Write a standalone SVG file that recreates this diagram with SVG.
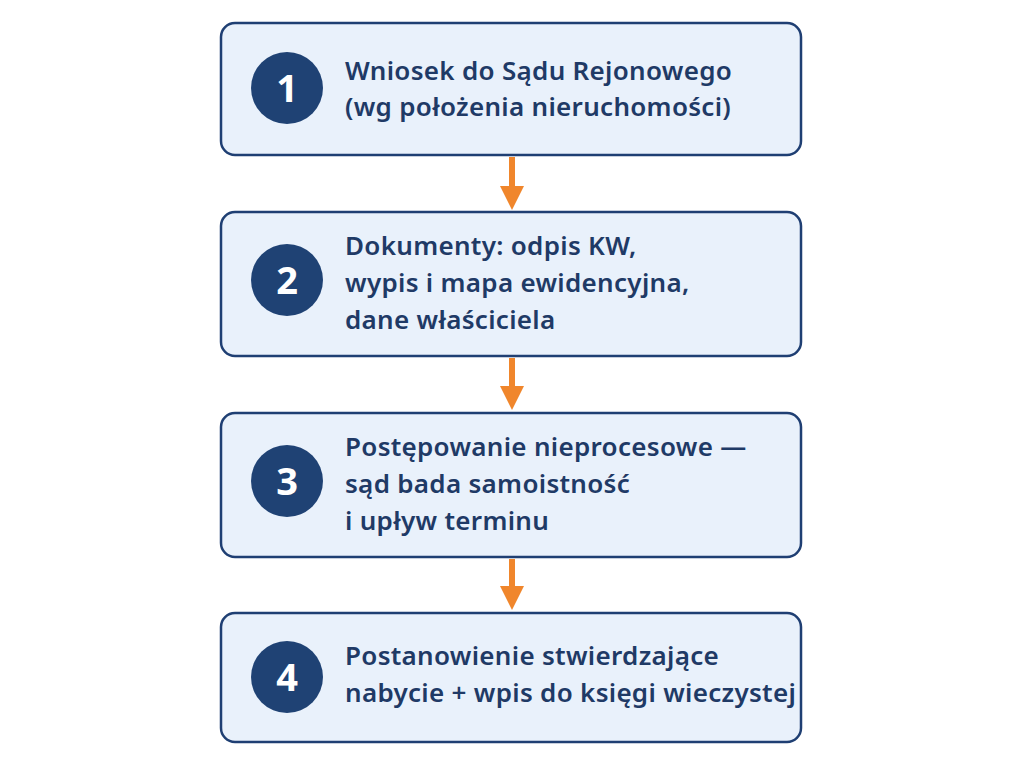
<svg xmlns="http://www.w3.org/2000/svg" width="1024" height="768" viewBox="0 0 1024 768">
<style>
.box{fill:#e9f1fb;stroke:#1f3f73;stroke-width:2.5}
.num{fill:#1f4274}
.nt{font-family:"Noto Sans","DejaVu Sans",sans-serif;font-size:38px;font-weight:bold;fill:#fff;text-anchor:middle}
.t{font-family:"Noto Sans","DejaVu Sans",sans-serif;font-size:26px;font-weight:600;fill:#1f3a66;letter-spacing:0.3px}
.ar{stroke:#f0862c;stroke-width:6;fill:none}
</style>
<defs><marker id="ah" markerWidth="4" markerHeight="4" refX="2" refY="2" orient="auto" markerUnits="strokeWidth"><path d="M0,0L4,2L0,4z" fill="#f0862c"/></marker></defs>
<rect width="1024" height="768" fill="#fff"/>
<g id="connectors">
<path class="ar" d="M512,157V198" marker-end="url(#ah)"/>
<path class="ar" d="M512,358V398" marker-end="url(#ah)"/>
<path class="ar" d="M512,559V598" marker-end="url(#ah)"/>
</g>
<g id="n1"><rect class="box" x="221" y="23" width="580" height="132" rx="14"/><circle class="num" cx="287" cy="88" r="36"/><text class="nt" x="287" y="102">1</text>
<text class="t" x="345" y="80">Wniosek do Sądu Rejonowego</text><text class="t" x="345" y="116">(wg położenia nieruchomości)</text></g>
<g id="n2"><rect class="box" x="221" y="212" width="580" height="144" rx="14"/><circle class="num" cx="287" cy="280" r="36"/><text class="nt" x="287" y="294">2</text>
<text class="t" x="345" y="255">Dokumenty: odpis KW,</text><text class="t" x="345" y="292">wypis i mapa ewidencyjna,</text><text class="t" x="345" y="329">dane właściciela</text></g>
<g id="n3"><rect class="box" x="221" y="413" width="580" height="144" rx="14"/><circle class="num" cx="287" cy="481" r="36"/><text class="nt" x="287" y="495">3</text>
<text class="t" x="345" y="456">Postępowanie nieprocesowe —</text><text class="t" x="345" y="493">sąd bada samoistność</text><text class="t" x="345" y="530">i upływ terminu</text></g>
<g id="n4"><rect class="box" x="221" y="613" width="580" height="129" rx="14"/><circle class="num" cx="287" cy="677" r="36"/><text class="nt" x="287" y="691">4</text>
<text class="t" x="345" y="665">Postanowienie stwierdzające</text><text class="t" x="345" y="702">nabycie + wpis do księgi wieczystej</text></g>
</svg>
